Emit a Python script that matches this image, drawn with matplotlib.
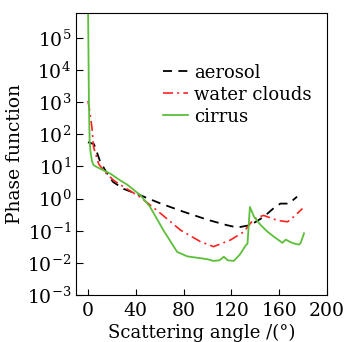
import numpy as np
import matplotlib
matplotlib.use("Agg")
import matplotlib.pyplot as plt

plt.rcParams['font.family'] = ['DejaVu Serif']
plt.rcParams['mathtext.fontset'] = 'cm'

# values
aerosol_angle = [0, 5, 10, 15, 21, 30, 44, 61, 80, 100, 116, 125, 136, 147, 155, 161, 168, 175]
aerosol_val = [57, 50, 15, 7, 3.3, 2.0, 1.26, 0.7, 0.39, 0.22, 0.15, 0.126, 0.15, 0.27, 0.49, 0.7, 0.7, 1.15]

water_angle = [0, 1, 3.3, 4.7, 9, 13, 21.5, 30, 44, 60.6, 77.4, 94, 105, 119, 130.5, 139, 147,
               158.5, 167, 172, 179.5]
water_val = [1100, 700, 170, 40, 12, 7.5, 3.7, 2.3, 1.1, 0.35, 0.105, 0.046, 0.032, 0.051, 0.093,
             0.24, 0.30, 0.21, 0.19, 0.27, 0.49]

cirrus_angle = [0, 0.4, 0.8, 1.4, 2, 3.3, 4.7, 7.5, 13, 18.7, 27, 33, 44, 52, 63.4, 74.6, 83, 88,
                94, 100, 105, 110, 113.7, 117, 122, 127, 132, 133.5, 135.5, 139, 144.5, 150,
                155.6, 162.7, 165.5, 169, 172.4, 176.6, 178, 180.8]
cirrus_val = [2e6, 5e4, 1000, 65, 32, 15, 11, 9.6, 7.6, 6.0, 3.7, 2.7, 1.26, 0.55, 0.1, 0.022,
              0.016, 0.015, 0.014, 0.013, 0.0115, 0.012, 0.0155, 0.012, 0.0115, 0.018, 0.035,
              0.04, 0.55, 0.27, 0.15, 0.095, 0.065, 0.042, 0.053, 0.045, 0.04, 0.037, 0.042, 0.083]

fig = plt.figure(figsize=(3.44, 3.42), dpi=100)
ax = fig.add_axes([76 / 344, 1 - 295 / 342, 251 / 344, 282 / 342])

ax.plot(aerosol_angle, aerosol_val, color='black', linestyle=(0, (5, 3.5)), lw=1.3, label='aerosol')
ax.plot(water_angle, water_val, color='#ff2020', linestyle=(0, (6, 2.5, 1.2, 2.5)), lw=1.2,
        label='water clouds')
ax.plot(cirrus_angle, cirrus_val, color='#5cbf3a', lw=1.3, label='cirrus')

ax.set_yscale('log')
ax.set_xlim(-10, 200)
ax.set_ylim(1e-3, 6e5)
ax.set_xticks([0, 40, 80, 120, 160, 200])
ax.set_yticks([10.0 ** k for k in range(-3, 6)])
ax.tick_params(axis='both', which='both', direction='in', labelsize=13.5, top=False, right=False)
ax.tick_params(axis='y', which='major', length=5)
ax.tick_params(axis='y', which='minor', length=3)
ax.tick_params(axis='x', which='major', length=4, pad=5)

ax.set_xlabel('Scattering angle /(°)', fontsize=13, labelpad=3)
ax.set_ylabel('Phase function', fontsize=13.5, labelpad=2)

leg = ax.legend(loc='upper left', bbox_to_anchor=(0.347, 0.82), frameon=False, fontsize=13,
                handlelength=1.4, handletextpad=0.3, labelspacing=0.22, borderaxespad=0,
                borderpad=0)

fig.savefig('out.png', dpi=100)
